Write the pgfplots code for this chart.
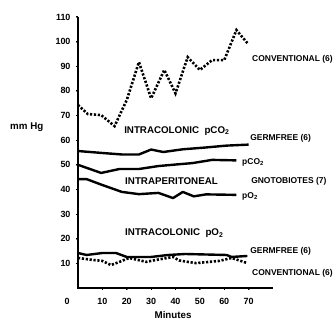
\documentclass[border=0pt]{standalone}
\usepackage{fontspec}
\setmainfont{Liberation Sans}
\usepackage{pgfplots}
\pgfplotsset{compat=1.18}
\newcommand{\smf}{\fontsize{8.5}{8.5}\selectfont\bfseries}
\newcommand{\bgf}{\fontsize{9.8}{9.8}\selectfont\bfseries}
\pgfplotsset{
  sline/.style={black, line width=2.4bp, line join=round, no marks},
  dline/.style={black, line width=2.6bp, dash pattern=on 2.2bp off 1.7bp, no marks},
  fline/.style={black, line width=1.6bp, line join=miter, no marks, forget plot},
  tline/.style={black, line width=1bp, no marks, forget plot},
}
\begin{document}
\begin{tikzpicture}
\begin{axis}[
  anchor=south west, at={(78bp,34bp)},
  scale only axis, width=195bp, height=271bp,
  xmin=0, xmax=80, ymin=0, ymax=110,
  axis lines=left,
  axis line style={-, line width=1.6bp, black},
  xtick={10,20,...,70}, ytick={10,20,...,110},
  tick align=outside, major tick length=2bp,
  ticklabel style={font=\fontsize{9}{9}\selectfont\bfseries},
  yticklabel style={xshift=-2bp},
  xticklabel style={yshift=-5bp},
  clip=false,
  /pgf/number format/assume math mode=true,
]
% axis frame and ticks
\addplot[fline] coordinates {(0,110)(0,0)(80,0)};
\pgfplotsinvokeforeach{10,20,...,70}{\addplot[tline] coordinates {(#1,0)(#1,-1)};}
\pgfplotsinvokeforeach{10,20,...,110}{\addplot[tline] coordinates {(0,#1)(-1,#1)};}
% Intracolonic pCO2, conventional
\addplot[dline] coordinates {(0,74.3)(4,70.6)(9.5,70.2)(15,65.7)(20,76.3)(25,91.7)(30,77)(35.4,88.5)(40,79)(45,93.7)(50,88.5)(55,92.5)(60,92.5)(65,104.7)(69.5,99.4)};
% Intracolonic pCO2, germfree
\addplot[sline] coordinates {(0,55.6)(10,54.8)(18,54.2)(25,54.2)(30,56.2)(35,55.2)(43,56.3)(52,57)(61,57.8)(70,58.2)};
% Intraperitoneal pCO2, gnotobiotes
\addplot[sline] coordinates {(0,50)(9.5,46.7)(17,48.3)(25,48.3)(33,49.5)(41,50.2)(47,50.7)(55,52)(65,51.8)};
% Intraperitoneal pO2, gnotobiotes
\addplot[sline] coordinates {(0,44.2)(3.5,44.2)(10,41.8)(18,39)(25,38.1)(33,38.6)(39,36.5)(43,39)(47.5,37.2)(52.5,38)(65,37.8)};
% Intracolonic pO2, germfree
\addplot[sline] coordinates {(0,14.2)(3.5,13.4)(10,14.2)(15.6,14.2)(20,12.6)(30,12.6)(37,13.4)(44,13.8)(61,13.4)(63,12.6)(69.5,13)};
% Intracolonic pO2, conventional
\addplot[dline] coordinates {(0,12.2)(6,11.4)(10,11)(13.5,9.3)(17,10.6)(21,12.2)(28,10.6)(32,11.4)(39,12.6)(41.5,11.2)(45,10.6)(48.5,10.1)(58,11)(63,12.2)(69.5,10.1)};

\node[anchor=base west, inner sep=0, font=\smf] at (axis cs:71.4,92.1) {CONVENTIONAL (6)};
\node[anchor=base west, inner sep=0, font=\bgf] at (axis cs:18.9,62.8) {INTRACOLONIC\ \ pCO\textsubscript{2}};
\node[anchor=base west, inner sep=0, font=\smf] at (axis cs:70.6,59.7) {GERMFREE (6)};
\node[anchor=base west, inner sep=0, font=\smf] at (axis cs:67.3,50.1) {pCO\textsubscript{2}};
\node[anchor=base west, inner sep=0, font=\bgf] at (axis cs:19.3,42.0) {INTRAPERITONEAL};
\node[anchor=base west, inner sep=0, font=\smf] at (axis cs:71,42.6) {GNOTOBIOTES (7)};
\node[anchor=base west, inner sep=0, font=\smf] at (axis cs:67.3,36.5) {pO\textsubscript{2}};
\node[anchor=base west, inner sep=0, font=\bgf] at (axis cs:19.3,21.3) {INTRACOLONIC\ \ pO\textsubscript{2}};
\node[anchor=base west, inner sep=0, font=\smf] at (axis cs:70.6,14.2) {GERMFREE (6)};
\node[anchor=base west, inner sep=0, font=\smf] at (axis cs:71.4,4.9) {CONVENTIONAL (6)};
\node[anchor=west, inner sep=0, font=\bgf] at (axis cs:-27.9,65.4) {mm Hg};
\node[inner sep=0, font=\bgf] at (axis cs:39,-11) {Minutes};
\node[inner sep=0, font=\fontsize{9}{9}\selectfont\bfseries] at (axis cs:-4.5,-5.3) {0};
\end{axis}
\pgfresetboundingbox
\path (0,0) rectangle (336bp,322bp);
\end{tikzpicture}
\end{document}
